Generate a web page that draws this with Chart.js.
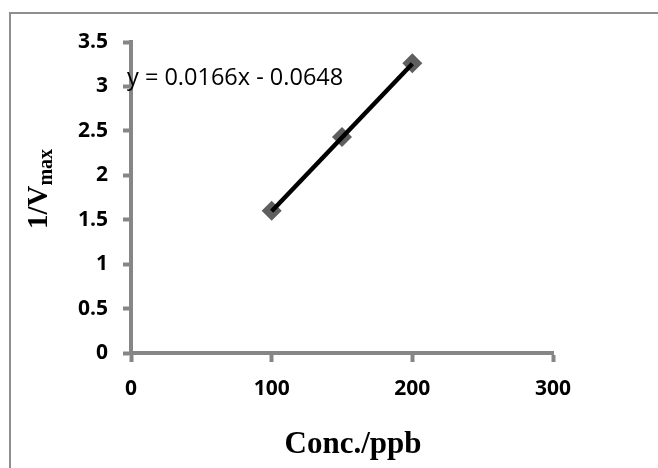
<!DOCTYPE html>
<html><head><meta charset="utf-8">
<script src="https://cdn.jsdelivr.net/npm/chart.js@4"></script>
<style>html,body{margin:0;padding:0;background:#fff}</style>
</head><body>
<canvas id="c" width="658" height="468"></canvas>
<script>
const concX = [100, 150, 200];
const invVmax = [1.60, 2.43, 3.26];
const trendX = [100, 200];
const trendY = [1.5952, 3.2552];
const xTicks = [0, 100, 200, 300];
const yTicks = [0, 0.5, 1, 1.5, 2, 2.5, 3, 3.5];
const equationText = 'y = 0.0166x - 0.0648';
const xTitle = 'Conc./ppb';
const yTitleMain = '1/V';
const yTitleSub = 'max';

const AXIS = '#868686';
const deco = {
  id: 'deco',
  beforeDraw(chart) {
    const ctx = chart.ctx;
    ctx.save();
    ctx.fillStyle = '#fff';
    ctx.fillRect(0, 0, chart.width, chart.height);
    ctx.strokeStyle = '#8e8e8e';
    ctx.lineWidth = 2;
    ctx.beginPath();
    ctx.moveTo(10, chart.height);
    ctx.lineTo(10, 13);
    ctx.lineTo(chart.width, 13);
    ctx.stroke();
    ctx.restore();
  },
  afterDraw(chart) {
    const ctx = chart.ctx;
    ctx.save();
    ctx.fillStyle = '#000';
    ctx.textBaseline = 'alphabetic';
    ctx.font = '23.5px "Open Sans"';
    ctx.textAlign = 'left';
    ctx.fillText(equationText, 127, 85);
    ctx.font = 'bold 31px "Liberation Serif"';
    ctx.textAlign = 'center';
    ctx.fillText(xTitle, 353, 453);
    ctx.translate(47, 189);
    ctx.rotate(-Math.PI / 2);
    ctx.textAlign = 'left';
    const fMain = 'bold 29px "Liberation Serif"', fSub = 'bold 20px "Liberation Serif"';
    ctx.font = fMain; const wm = ctx.measureText(yTitleMain).width;
    ctx.font = fSub; const ws = ctx.measureText(yTitleSub).width;
    const x0 = -(wm + ws) / 2;
    ctx.font = fMain; ctx.fillText(yTitleMain, x0, 0);
    ctx.font = fSub; ctx.fillText(yTitleSub, x0 + wm, 5);
    ctx.restore();
  }
};

new Chart(document.getElementById('c'), {
  type: 'scatter',
  data: {
    datasets: [
      {
        type: 'line',
        data: trendX.map((x, i) => ({x, y: trendY[i]})),
        borderColor: '#000', borderWidth: 4.5, pointRadius: 0, fill: false, order: 0
      },
      {
        data: concX.map((x, i) => ({x, y: invVmax[i]})),
        pointStyle: 'rectRot', pointRadius: 10, backgroundColor: '#5f5f5f',
        borderColor: '#5f5f5f', borderWidth: 0, order: 1
      }
    ]
  },
  options: {
    responsive: false, animation: false, devicePixelRatio: 1,
    layout: { padding: { left: 0, top: 42, right: 105, bottom: 0 } },
    plugins: { legend: { display: false }, tooltip: { enabled: false } },
    scales: {
      x: {
        type: 'linear', min: 0, max: 300,
        afterBuildTicks: s => { s.ticks = xTicks.map(v => ({value: v})); },
        afterFit: s => { s.height = 468 - 353; },
        grid: { drawOnChartArea: false, drawTicks: true, tickLength: 9, tickWidth: 4, tickColor: AXIS },
        border: { color: AXIS, width: 4 },
        ticks: { color: '#000', font: { family: 'Open Sans', weight: 'bold', size: 21 }, padding: 14, callback: v => String(v) }
      },
      y: {
        type: 'linear', min: 0, max: 3.5,
        afterBuildTicks: s => { s.ticks = yTicks.map(v => ({value: v})); },
        afterFit: s => { s.width = 131; },
        grid: { drawOnChartArea: false, drawTicks: true, tickLength: 8, tickWidth: 4, tickColor: AXIS },
        border: { color: AXIS, width: 4 },
        ticks: { color: '#000', font: { family: 'Open Sans', weight: 'bold', size: 21 }, padding: 15, callback: v => String(v) }
      }
    }
  },
  plugins: [deco]
});
</script>
</body></html>
